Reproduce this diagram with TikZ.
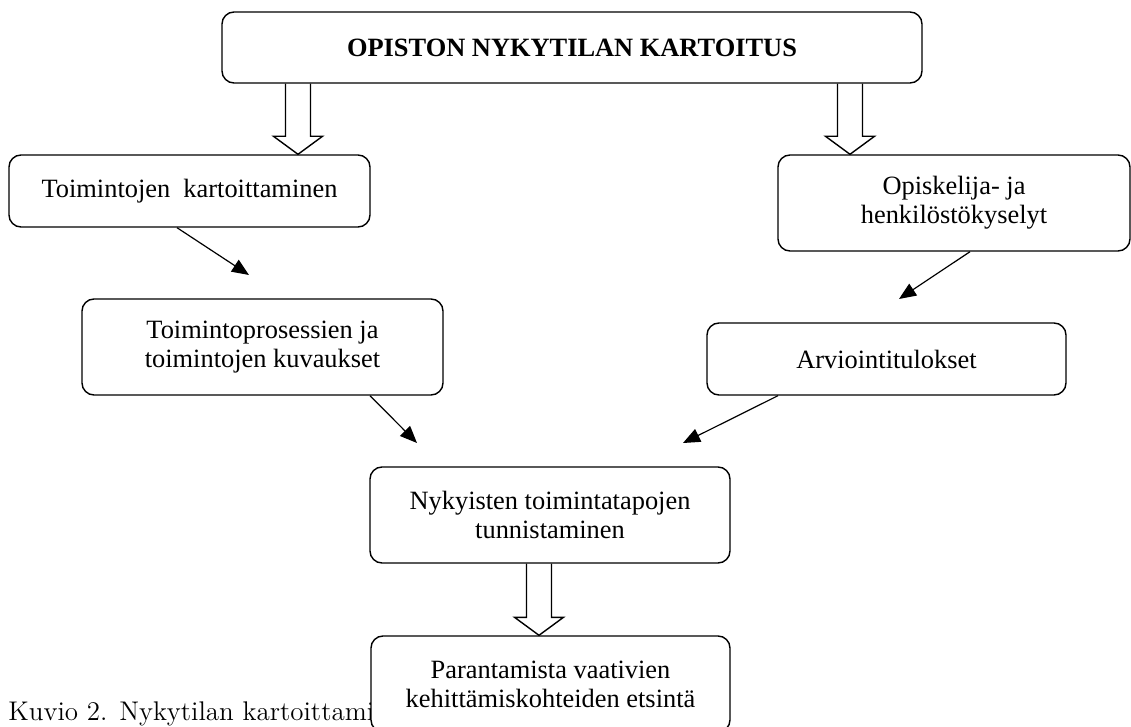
\documentclass[tikz,border=0pt]{standalone}
\usepackage{fontspec}
\newfontfamily\boxfont{Liberation Serif}
\usetikzlibrary{arrows.meta,calc}

% hohler Blockpfeil von #1 nach #2
\newcommand\hohlpfeil[2]{%
\draw[hohl] let \p1=#1, \p2=#2 in (\x1-6.25pt,\y1) -- (\x1-6.25pt,\y2+9pt) -- (\x1-12.25pt,\y2+9pt) -- (\x1,\y2) -- (\x1+12.25pt,\y2+9pt) -- (\x1+6.25pt,\y2+9pt) -- (\x1+6.25pt,\y1);}

\begin{document}
\begin{tikzpicture}[x=0.5pt,y=-0.5pt,
kasten/.style={draw, line width=0.7pt, rounded corners=6pt, fill=white, align=center, inner sep=0pt, font=\boxfont\fontsize{13.2}{14.5}\selectfont},
titel/.style={kasten, font=\boxfont\bfseries\fontsize{13.2}{14.5}\selectfont},
pfeil/.style={-{Triangle[length=8.5pt,width=7pt]}, line width=0.6pt},
hohl/.style={line width=0.7pt},
]

\useasboundingbox (0,0) rectangle (1131,727);

\node[titel, minimum width=350pt, minimum height=35.5pt] (A) at (572,47.5) {OPISTON NYKYTILAN KARTOITUS};
\node[kasten, minimum width=180.5pt, minimum height=36pt] (B) at (189.5,191) {Toimintojen\ \ kartoittaminen};
\node[kasten, minimum width=176pt, minimum height=48pt] (C) at (954,203) {Opiskelija- ja\\henkilöstökyselyt};
\node[kasten, minimum width=180.5pt, minimum height=48pt] (D) at (262.5,347) {Toimintoprosessien ja\\toimintojen kuvaukset};
\node[kasten, minimum width=179.5pt, minimum height=36pt] (E) at (886.5,359) {Arviointitulokset};
\node[kasten, minimum width=180pt, minimum height=48pt] (F) at (550,515) {Nykyisten toimintatapojen\\tunnistaminen};

%Bildunterschrift, vom letzten Kasten verdeckt
\node[anchor=base west, inner sep=0pt, font=\fontsize{13.5}{15}\selectfont] (K) at (8,720) {Kuvio 2. Nykytilan kartoittami};
\node[kasten, minimum width=179.5pt, minimum height=48pt] (G) at (550.5,684) {Parantamista vaativien\\kehittämiskohteiden etsintä};

\coordinate (Z1) at (249,275);
\coordinate (Z2) at (899,299);
\coordinate (Z3) at (417,443);
\coordinate (Z4) at (683,443);

\draw[pfeil] ([xshift=-6.25pt]B.south) -- (Z1);
\draw[pfeil] ([xshift=8pt]C.south) -- (Z2);
\draw[pfeil] ([xshift=53.75pt]D.south) -- (Z3);
\draw[pfeil] ([xshift=-54.25pt]E.south) -- (Z4);

\coordinate (H1) at ([xshift=-137pt]A.south);
\coordinate (H2) at ([xshift=139pt]A.south);
\coordinate (H3) at ([xshift=-5.5pt]F.south);

\hohlpfeil{(H1)}{(H1 |- B.north)}
\hohlpfeil{(H2)}{(H2 |- C.north)}
\hohlpfeil{(H3)}{(H3 |- G.north)}

\end{tikzpicture}
\end{document}
